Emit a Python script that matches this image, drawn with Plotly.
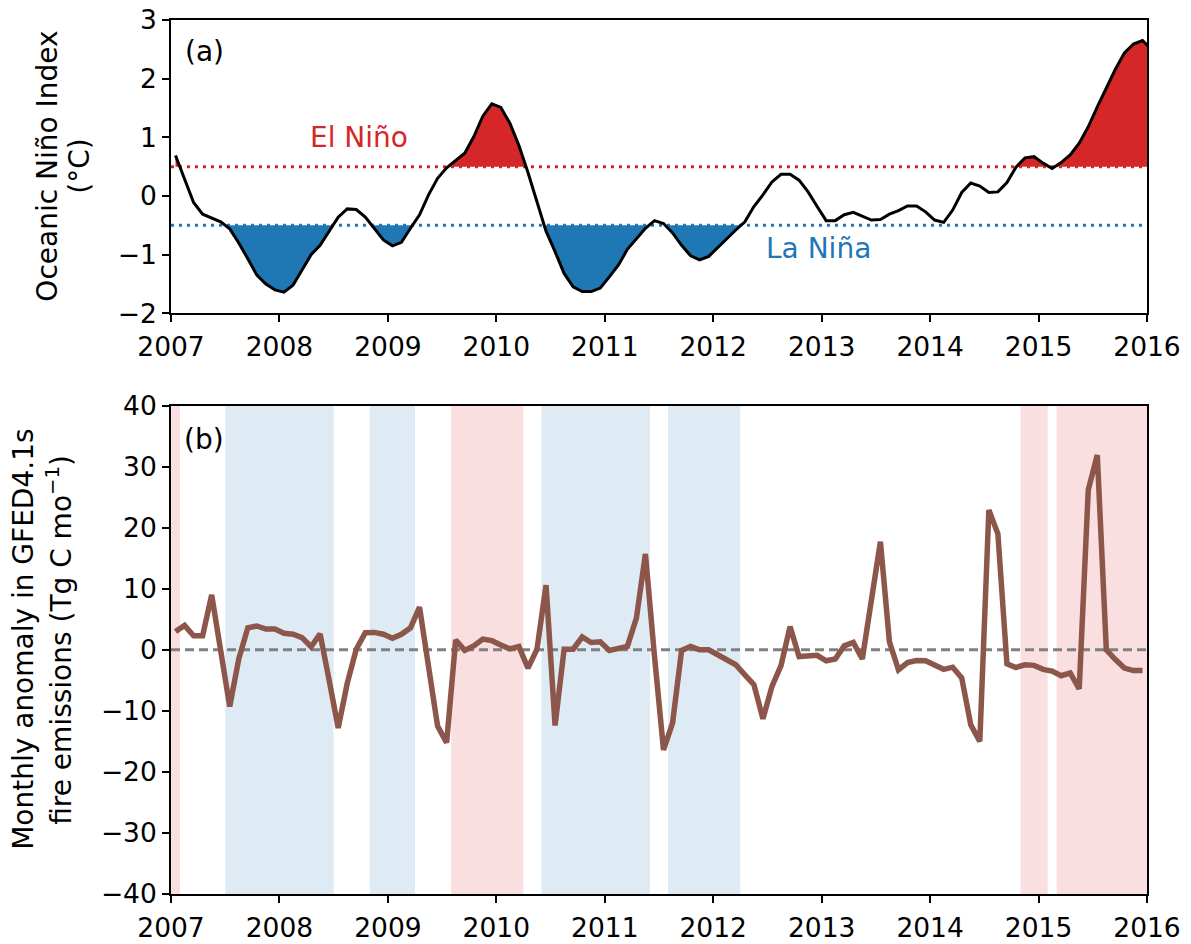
import numpy as np
import plotly.graph_objects as go

# ---------------------------------------------------------------------------
# Data: monthly values, January 2007 onwards
# ---------------------------------------------------------------------------
START_YEAR = 2007

# Oceanic Niño Index (°C), 3-month running mean
oni = [
    0.69, 0.30, -0.11, -0.31, -0.37, -0.44, -0.56, -0.80, -1.07, -1.35, -1.50, -1.60,
    -1.64, -1.52, -1.26, -1.00, -0.84, -0.61, -0.36, -0.22, -0.23, -0.36, -0.55, -0.75,
    -0.85, -0.79, -0.55, -0.32, 0.02, 0.30, 0.48, 0.60, 0.73, 1.01, 1.36, 1.57,
    1.51, 1.24, 0.86, 0.40, -0.12, -0.60, -0.95, -1.32, -1.55, -1.63, -1.63, -1.57,
    -1.38, -1.18, -0.91, -0.72, -0.55, -0.42, -0.47, -0.63, -0.84, -1.02, -1.09, -1.03,
    -0.88, -0.72, -0.58, -0.44, -0.18, 0.02, 0.24, 0.37, 0.37, 0.27, 0.07, -0.18,
    -0.42, -0.42, -0.32, -0.28, -0.35, -0.41, -0.40, -0.31, -0.25, -0.17, -0.17, -0.27,
    -0.41, -0.45, -0.24, 0.06, 0.22, 0.17, 0.06, 0.07, 0.23, 0.49, 0.65, 0.67,
    0.56, 0.47, 0.57, 0.70, 0.90, 1.18, 1.52, 1.85, 2.16, 2.44, 2.59, 2.65,
    2.50,
]

# Monthly anomaly in GFED4.1s fire emissions (Tg C per month)
fire_anomaly = [
    3.0, 4.0, 2.3, 2.3, 9.0, -0.5, -9.3, -1.5, 3.6, 3.9, 3.4, 3.4,
    2.7, 2.55, 2.0, 0.5, 2.6, -5.0, -12.8, -5.5, 0.1, 2.8, 2.85, 2.55,
    1.9, 2.55, 3.6, 7.0, -3.0, -12.5, -15.2, 1.6, -0.1, 0.65, 1.75, 1.5,
    0.8, 0.15, 0.55, -3.0, 0.1, 10.6, -12.4, 0.1, 0.1, 2.1, 1.2, 1.3,
    -0.1, 0.15, 0.55, 5.2, 15.7, -1.0, -16.4, -12.0, -0.1, 0.55, 0.0, 0.0,
    -0.8, -1.5, -2.45, -4.1, -5.7, -11.3, -6.0, -2.6, 3.8, -1.1, -1.0, -0.9,
    -1.8, -1.5, 0.65, 1.2, -1.5, 8.5, 17.7, 1.3, -3.3, -2.1, -1.75, -1.8,
    -2.55, -3.2, -2.85, -4.6, -12.3, -15.0, 22.9, 19.0, -2.3, -2.9, -2.45, -2.55,
    -3.2, -3.5, -4.25, -3.8, -6.4, 26.2, 31.9, 0.0, -1.6, -3.0, -3.4, -3.4,
]

year_ticks = list(range(2007, 2017))
year_labels = [str(y) for y in year_ticks]
oni_ticks = [-2, -1, 0, 1, 2, 3]
fire_ticks = [-40, -30, -20, -10, 0, 10, 20, 30, 40]

EL_NINO_LEVEL = 0.5
LA_NINA_LEVEL = -0.5

RED = "#d62728"
BLUE = "#1f77b4"
BROWN = "#8c564b"
FONT = "DejaVu Sans"

# mid-month time stamps in decimal years
oni_time = START_YEAR + (np.arange(len(oni)) + 0.5) / 12
fire_time = START_YEAR + (np.arange(len(fire_anomaly)) + 0.5) / 12


def clamp_to_level(t, v, level, above):
    """Curve clamped at `level`, with the level crossings inserted."""
    xs, ys = [], []
    for k in range(len(v)):
        if k > 0:
            a, b = v[k - 1] - level, v[k] - level
            if a * b < 0:
                xs.append(t[k - 1] + (t[k] - t[k - 1]) * a / (a - b))
                ys.append(level)
        xs.append(t[k])
        ys.append(max(v[k], level) if above else min(v[k], level))
    return xs, ys


def phase_spans(values, inside):
    """Start/end years of consecutive months satisfying `inside`."""
    spans, start = [], None
    for k, val in enumerate(values):
        if inside(val):
            if start is None:
                start = k
        elif start is not None:
            spans.append((start, k))
            start = None
    if start is not None:
        spans.append((start, len(values)))
    return [(START_YEAR + a / 12, START_YEAR + b / 12) for a, b in spans]


fig = go.Figure()

# ---- (a) ONI --------------------------------------------------------------
for level, color in ((EL_NINO_LEVEL, RED), (LA_NINA_LEVEL, BLUE)):
    fig.add_trace(go.Scatter(
        x=[year_ticks[0], year_ticks[-1]], y=[level, level], mode="lines",
        line=dict(color=color, width=3, dash="3px,5px"),
        xaxis="x", yaxis="y", hoverinfo="skip", showlegend=False))

for level, color, above in ((EL_NINO_LEVEL, RED, True), (LA_NINA_LEVEL, BLUE, False)):
    fx, fy = clamp_to_level(oni_time, oni, level, above)
    fig.add_trace(go.Scatter(
        x=fx, y=[level] * len(fx), mode="lines", line=dict(width=0),
        xaxis="x", yaxis="y", hoverinfo="skip", showlegend=False))
    fig.add_trace(go.Scatter(
        x=fx, y=fy, mode="lines", line=dict(width=0), fill="tonexty",
        fillcolor=color, xaxis="x", yaxis="y", hoverinfo="skip", showlegend=False))

fig.add_trace(go.Scatter(
    x=oni_time, y=oni, mode="lines", line=dict(color="black", width=3),
    xaxis="x", yaxis="y", showlegend=False))

# ---- (b) fire emission anomaly -------------------------------------------
fig.add_trace(go.Scatter(
    x=[year_ticks[0], year_ticks[-1]], y=[0, 0], mode="lines",
    line=dict(color="gray", width=3, dash="9px,5px"),
    xaxis="x2", yaxis="y2", hoverinfo="skip", showlegend=False))
fig.add_trace(go.Scatter(
    x=fire_time, y=fire_anomaly, mode="lines", line=dict(color=BROWN, width=5.5),
    xaxis="x2", yaxis="y2", showlegend=False))

oni_overlap = oni[:len(fire_anomaly)]
shapes = []
for x0, x1 in phase_spans(oni_overlap, lambda v: v > EL_NINO_LEVEL):
    shapes.append(dict(type="rect", xref="x2", yref="y2 domain", x0=x0, x1=x1,
                       y0=0, y1=1, fillcolor="rgba(214,39,40,0.15)",
                       line=dict(width=0), layer="below"))
for x0, x1 in phase_spans(oni_overlap, lambda v: v < LA_NINA_LEVEL):
    shapes.append(dict(type="rect", xref="x2", yref="y2 domain", x0=x0, x1=x1,
                       y0=0, y1=1, fillcolor="rgba(31,119,180,0.15)",
                       line=dict(width=0), layer="below"))

axis_common = dict(
    showline=True, mirror=True, linecolor="black", linewidth=1.7,
    ticks="outside", ticklen=7, tickwidth=1.7, tickcolor="black",
    showgrid=False, zeroline=False, automargin=False,
    tickfont=dict(family=FONT, size=26.5, color="black"),
)
x_axis_common = dict(axis_common, ticklabelstandoff=2)

annotations = [
    dict(text="El Niño", x=2008.73, y=1.0, xref="x", yref="y", showarrow=False,
         xanchor="center", yanchor="middle", font=dict(family=FONT, size=28, color=RED)),
    dict(text="La Niña", x=2012.97, y=-0.9, xref="x", yref="y", showarrow=False,
         xanchor="center", yanchor="middle", font=dict(family=FONT, size=28, color=BLUE)),
    dict(text="(a)", x=0.034, y=0.891, xref="x domain", yref="y domain", showarrow=False,
         xanchor="center", yanchor="middle", font=dict(family=FONT, size=28, color="black")),
    dict(text="(b)", x=0.034, y=0.93, xref="x2 domain", yref="y2 domain", showarrow=False,
         xanchor="center", yanchor="middle", font=dict(family=FONT, size=28, color="black")),
]

# axis titles, one annotation per line
title_lines = [
    ("Oceanic Niño Index", -123, "y domain", 0.5),
    ("(°C)", -91, "y domain", 0.5),
    ("Monthly anomaly in GFED4.1s", -147, "y2 domain", 0.5205),
    ("fire emissions (Tg C mo<sup>−1</sup>)", -111, "y2 domain", 0.5205),
]
for text, shift, yref, ypos in title_lines:
    annotations.append(dict(
        text=text, x=0, xshift=shift, xref="paper", y=ypos, yref=yref,
        textangle=-90, showarrow=False, xanchor="center", yanchor="middle",
        font=dict(family=FONT, size=28, color="black")))

fig.update_layout(
    width=1191, height=944,
    margin=dict(l=171, r=44, t=20, b=50, autoexpand=False),
    paper_bgcolor="white", plot_bgcolor="white",
    font=dict(family=FONT, color="black"),
    xaxis=dict(x_axis_common, domain=[0, 1], range=[2007, 2016], anchor="y",
               tickvals=year_ticks, ticktext=year_labels),
    yaxis=dict(axis_common, domain=[0.6644, 1], range=[-2, 3], anchor="x",
               tickvals=oni_ticks),
    xaxis2=dict(x_axis_common, domain=[0, 1], range=[2007, 2016], anchor="y2",
                tickvals=year_ticks, ticktext=year_labels),
    yaxis2=dict(axis_common, domain=[0, 0.5588], range=[-40, 40], anchor="x2",
                tickvals=fire_ticks),
    shapes=shapes,
    annotations=annotations,
    showlegend=False,
)

fig.write_html("out.html")
